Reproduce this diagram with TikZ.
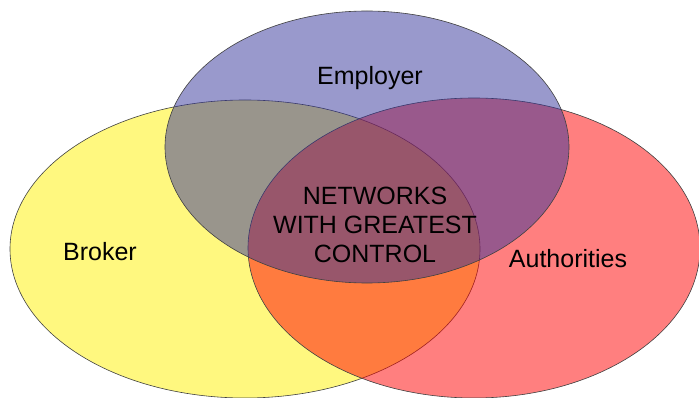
\documentclass[tikz,border=0pt]{standalone}
\usepackage{fontspec}
\setmainfont{Liberation Sans}
\usepackage{tikz}
\usetikzlibrary{shapes.geometric}
\definecolor{setblue}{RGB}{51,51,153}

\begin{document}
\begin{tikzpicture}[
			x=1pt, y=-1pt,
			every node/.style={font=\fontsize{25}{29}\selectfont},
			set/.style={draw=black!75, line width=0.6pt, ellipse, fill opacity=0.5, inner sep=0pt, outer sep=0pt},
			label/.style={align=center, text=black},
			]
			
			\useasboundingbox (0,0) rectangle (699,398);
			
			\node[set, fill=yellow, minimum width=470pt, minimum height=298pt] (broker) at (245,249) {};
			\node[set, fill=red, minimum width=452pt, minimum height=300pt] (authorities) at (474,248) {};
			\node[set, fill=setblue, minimum width=404pt, minimum height=272pt] (employer) at (367,147) {};
			
			\node[label] (employertext) at (370,78) {Employer};
			\node[label] (brokertext) at (100,252) {Broker};
			\node[label] (authoritiestext) at (568,259) {Authorities};
			\node[label] (centre) at (375,225) {NETWORKS\\WITH GREATEST\\CONTROL};
			
		\end{tikzpicture}
\end{document}
